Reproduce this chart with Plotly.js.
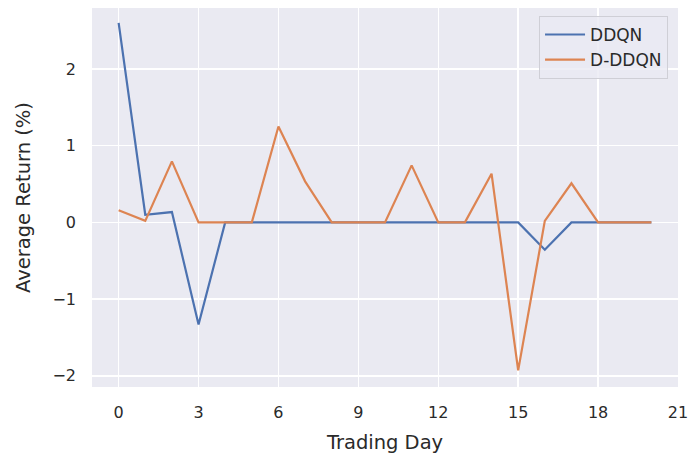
<!DOCTYPE html>
<html>
<head>
<meta charset="utf-8">
<script src="https://cdn.plot.ly/plotly-3.0.1.min.js"></script>
<style>html,body{margin:0;padding:0;background:#fff;}#chart{width:692px;height:454px;}</style>
</head>
<body>
<div id="chart"></div>
<script>
const tradingDays = [0,1,2,3,4,5,6,7,8,9,10,11,12,13,14,15,16,17,18,19,20];
const ddqn = [2.60,0.10,0.135,-1.33,0,0,0,0,0,0,0,0,0,0,0,0,-0.356,0,0,0,0];
const dddqn = [0.157,0.02,0.795,0,0,0,1.25,0.535,0,0,0,0.743,0,0,0.635,-1.93,0.02,0.51,0,0,0];
const seriesNames = ['DDQN','D-DDQN'];
const xTicks = [0,3,6,9,12,15,18,21];
const yTicks = [-2,-1,0,1,2];

const textColor = '#2a2a2a';
const font = 'DejaVu Sans, sans-serif';

const traces = [
  {x: tradingDays, y: ddqn, name: seriesNames[0], mode: 'lines', line: {color: '#4C72B0', width: 2.2}},
  {x: tradingDays, y: dddqn, name: seriesNames[1], mode: 'lines', line: {color: '#DD8452', width: 2.2}}
];

const layout = {
  width: 692, height: 454,
  margin: {l: 92, r: 14, t: 8, b: 67},
  paper_bgcolor: '#ffffff',
  plot_bgcolor: '#EAEAF2',
  font: {family: font, color: textColor, size: 16},
  showlegend: true,
  legend: {
    x: 0.983, y: 0.979, xanchor: 'right', yanchor: 'top',
    bgcolor: 'rgba(234,234,242,0.8)', bordercolor: '#cfcfd6', borderwidth: 1,
    itemwidth: 40,
    font: {family: font, size: 17, color: textColor}
  },
  xaxis: {
    range: [-1, 21],
    tickvals: xTicks,
    ticktext: xTicks.map(String),
    showgrid: true, gridcolor: '#ffffff', gridwidth: 1.5,
    zeroline: false, showline: false,
    ticks: '', ticklabelstandoff: 14,
    tickfont: {family: font, size: 16, color: textColor},
    title: {text: 'Trading Day', font: {family: font, size: 19.5, color: textColor}, standoff: 14}
  },
  yaxis: {
    range: [-2.146, 2.795],
    tickvals: yTicks,
    showgrid: true, gridcolor: '#ffffff', gridwidth: 1.5,
    zeroline: true, zerolinecolor: '#ffffff', zerolinewidth: 1.5,
    showline: false,
    ticks: '', ticklabelstandoff: 15,
    tickfont: {family: font, size: 16, color: textColor},
    title: {text: 'Average Return (%)', font: {family: font, size: 19.5, color: textColor}, standoff: 16}
  }
};

Plotly.newPlot('chart', traces, layout, {displayModeBar: false, staticPlot: true});
</script>
</body>
</html>
